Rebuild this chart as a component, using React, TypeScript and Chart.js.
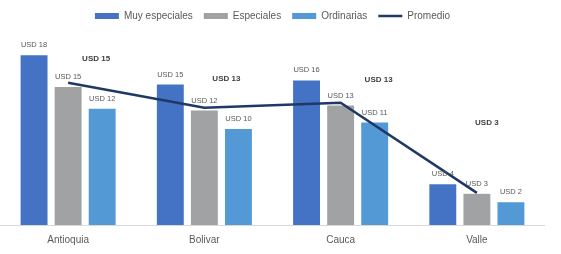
import React, { useEffect, useRef } from "react";
import { Chart, registerables } from "chart.js";

Chart.register(...registerables);

const categories = ["Antioquia", "Bolivar", "Cauca", "Valle"];
const muyEspeciales = [18.2, 15.07, 15.5, 4.38];
const especiales = [14.8, 12.27, 12.8, 3.34];
const ordinarias = [12.46, 10.3, 10.98, 2.44];
const promedio = [15.25, 12.56, 13.1, 3.44];
// label placement offsets (px) for the bold "Promedio" labels, relative to the point
const promedioLabelOffsets = [
  [28, -24],
  [22, -29],
  [38, -23],
  [10, -70],
];

const FONT = "'Liberation Sans', Arial, sans-serif";

const labelPlugin = {
  id: "valueLabels",
  afterDatasetsDraw(chart: any) {
    const ctx = chart.ctx;
    ctx.save();
    ctx.textAlign = "center";
    ctx.textBaseline = "middle";
    chart.data.datasets.forEach((ds: any, di: number) => {
      const meta = chart.getDatasetMeta(di);
      if (ds.type === "line") {
        ctx.font = `bold 8px ${FONT}`;
        ctx.fillStyle = "#404040";
        meta.data.forEach((pt: any, i: number) => {
          const off = promedioLabelOffsets[i];
          ctx.fillText("USD " + Math.round(ds.data[i]), pt.x + off[0], pt.y + off[1]);
        });
      } else {
        ctx.font = `7.5px ${FONT}`;
        ctx.fillStyle = "#595959";
        meta.data.forEach((bar: any, i: number) => {
          ctx.fillText("USD " + Math.round(ds.data[i]), bar.x, bar.y - 10);
        });
      }
    });
    ctx.restore();
  },
};

export default function App() {
  const ref = useRef<HTMLCanvasElement | null>(null);
  useEffect(() => {
    if (!ref.current) return;
    const chart = new Chart(ref.current, {
      type: "bar",
      data: {
        labels: categories,
        datasets: [
          {
            label: "Muy especiales",
            data: muyEspeciales,
            backgroundColor: "#4472C4",
            categoryPercentage: 0.75,
            barPercentage: 0.79,
          },
          {
            label: "Especiales",
            data: especiales,
            backgroundColor: "#A0A2A3",
            categoryPercentage: 0.75,
            barPercentage: 0.79,
          },
          {
            label: "Ordinarias",
            data: ordinarias,
            backgroundColor: "#5299D6",
            categoryPercentage: 0.75,
            barPercentage: 0.79,
          },
          {
            type: "line",
            label: "Promedio",
            data: promedio,
            borderColor: "#1F3864",
            backgroundColor: "#1F3864",
            borderWidth: 2.5,
            pointRadius: 0,
            tension: 0,
            order: -1,
          } as any,
        ],
      },
      options: {
        animation: false,
        responsive: false,
        maintainAspectRatio: false,
        layout: { padding: { top: 0, bottom: 1, left: 0, right: 0 } },
        plugins: {
          tooltip: { enabled: false },
          legend: {
            position: "top",
            labels: {
              usePointStyle: true,
              pointStyleWidth: 24,
              boxHeight: 6,
              padding: 11,
              color: "#595959",
              font: { family: FONT, size: 10 },
              sort: (a: any, b: any) => a.datasetIndex - b.datasetIndex,
              generateLabels: (chart: any) => {
                return chart.data.datasets.map((ds: any, i: number) => ({
                  text: ds.label,
                  datasetIndex: i,
                  fillStyle: ds.type === "line" ? ds.borderColor : ds.backgroundColor,
                  strokeStyle: ds.type === "line" ? ds.borderColor : ds.backgroundColor,
                  lineWidth: ds.type === "line" ? 2.5 : 0,
                  pointStyle: ds.type === "line" ? "line" : "rect",
                  hidden: false,
                  fontColor: "#595959",
                }));
              },
            },
          },
        },
        scales: {
          x: {
            grid: { display: false, drawTicks: false },
            border: { display: true, color: "#D9D9D9", width: 1 },
            ticks: {
              padding: 9,
              color: "#595959",
              font: { family: FONT, size: 10 },
            },
          },
          y: {
            display: false,
            min: 0,
            max: 20.8,
          },
        },
      },
      plugins: [labelPlugin],
    });
    return () => chart.destroy();
  }, []);
  return (
    <div style={{ position: "fixed", left: 0, top: 0, width: 561, height: 254, overflow: "hidden", background: "#fff" }}>
      <canvas ref={ref} width={545} height={256} style={{ display: "block", width: 545, height: 256 }} />
    </div>
  );
}
